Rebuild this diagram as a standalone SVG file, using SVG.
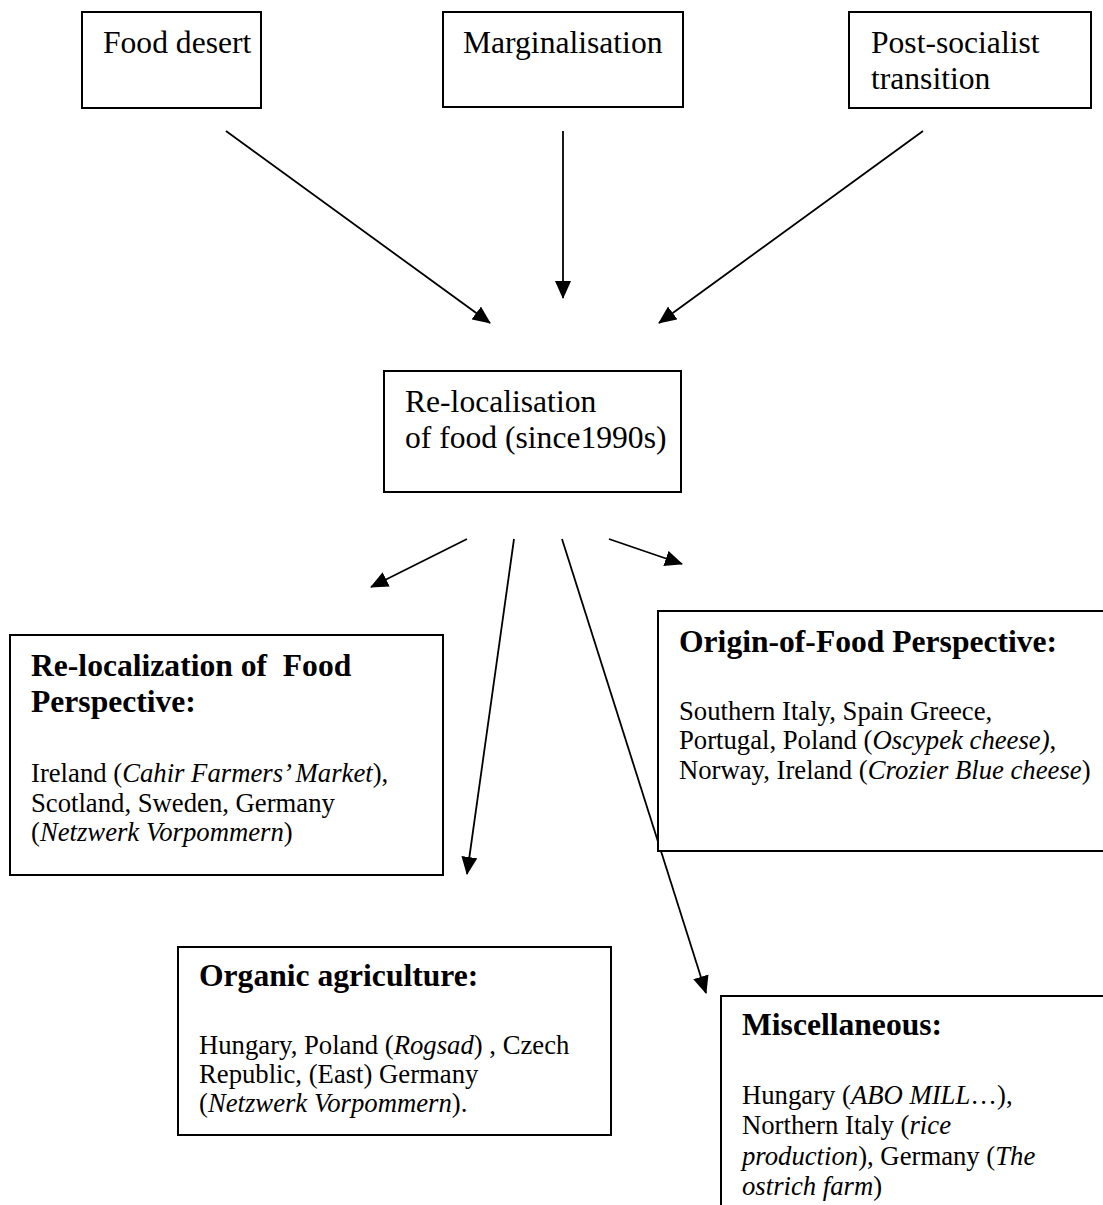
<svg xmlns="http://www.w3.org/2000/svg" width="1103" height="1205" viewBox="0 0 1103 1205">
<defs>
<style>
.box{fill:#fff;stroke:#000;stroke-width:2}
.t{font-family:"Liberation Serif","Times New Roman",serif;fill:#000}
.big{font-size:31.6px}
.hd{font-size:31.6px;font-weight:bold}
.bd{font-size:26.7px}
.it{font-style:italic}
.conn{stroke:#000;stroke-width:1.8;fill:none;marker-end:url(#ah)}
</style>
<marker id="ah" markerUnits="userSpaceOnUse" markerWidth="18" markerHeight="16" viewBox="0 0 18 16" refX="17" refY="8" orient="auto">
<path d="M0,0 L18,8 L0,16 z" fill="#000"/>
</marker>
</defs>
<rect width="1103" height="1205" fill="#fff"/>

<g id="connectors">
<line class="conn" x1="226" y1="131" x2="490" y2="323"/>
<line class="conn" x1="563" y1="131" x2="563" y2="298"/>
<line class="conn" x1="923" y1="131" x2="659" y2="323"/>
<line class="conn" x1="467" y1="539" x2="371" y2="587"/>
<line class="conn" x1="514" y1="539" x2="467" y2="874"/>
<line class="conn" x1="562" y1="539" x2="706" y2="993"/>
<line class="conn" x1="609" y1="539" x2="682" y2="564"/>
</g>

<g id="food-desert">
<rect class="box" x="82" y="12" width="179" height="96"/>
<text class="t big" x="103" y="53">Food desert</text>
</g>

<g id="marginalisation">
<rect class="box" x="443" y="12" width="240" height="95"/>
<text class="t big" x="463" y="53">Marginalisation</text>
</g>

<g id="post-socialist">
<rect class="box" x="849" y="12" width="242" height="96"/>
<text class="t big" x="871" y="53">Post-socialist</text>
<text class="t big" x="871" y="89">transition</text>
</g>

<g id="relocalisation">
<rect class="box" x="384" y="371" width="297" height="121"/>
<text class="t big" x="405" y="412">Re-localisation</text>
<text class="t big" x="405" y="448">of food (since1990s)</text>
</g>

<g id="relocalization-perspective">
<rect class="box" x="10" y="635" width="433" height="240"/>
<text class="t hd" x="31" y="676" xml:space="preserve">Re-localization of  Food</text>
<text class="t hd" x="31" y="712">Perspective:</text>
<text class="t bd" x="31" y="782">Ireland (<tspan class="it">Cahir Farmers’ Market</tspan>),</text>
<text class="t bd" x="31" y="811.5">Scotland, Sweden, Germany</text>
<text class="t bd" x="31" y="841">(<tspan class="it">Netzwerk Vorpommern</tspan>)</text>
</g>

<g id="origin-perspective">
<rect class="box" x="658" y="611" width="455" height="240"/>
<text class="t hd" x="679" y="652">Origin-of-Food Perspective:</text>
<text class="t bd" x="679" y="720">Southern Italy, Spain Greece,</text>
<text class="t bd" x="679" y="749">Portugal, Poland (<tspan class="it">Oscypek cheese)</tspan>,</text>
<text class="t bd" x="679" y="778.5">Norway, Ireland (<tspan class="it">Crozier Blue cheese</tspan>)</text>
</g>

<g id="organic">
<rect class="box" x="178" y="947" width="433" height="188"/>
<text class="t hd" x="199" y="986">Organic agriculture:</text>
<text class="t bd" x="199" y="1054">Hungary, Poland (<tspan class="it">Rogsad</tspan>) , Czech</text>
<text class="t bd" x="199" y="1083">Republic, (East) Germany</text>
<text class="t bd" x="199" y="1112">(<tspan class="it">Netzwerk Vorpommern</tspan>).</text>
</g>

<g id="miscellaneous">
<rect class="box" x="721" y="996" width="400" height="230"/>
<text class="t hd" x="742" y="1035">Miscellaneous:</text>
<text class="t bd" x="742" y="1104">Hungary (<tspan class="it">ABO MILL</tspan>…),</text>
<text class="t bd" x="742" y="1134">Northern Italy (<tspan class="it">rice</tspan></text>
<text class="t bd" x="742" y="1165"><tspan class="it">production</tspan>), Germany (<tspan class="it">The</tspan></text>
<text class="t bd" x="742" y="1195"><tspan class="it">ostrich farm</tspan>)</text>
</g>
</svg>
